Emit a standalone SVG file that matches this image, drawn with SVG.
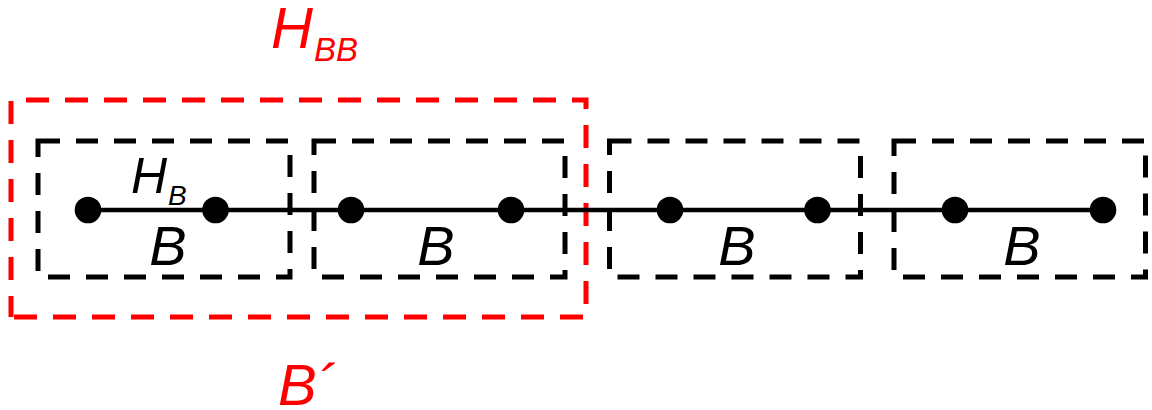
<svg xmlns="http://www.w3.org/2000/svg" width="1152" height="410" viewBox="0 0 1152 410">
<style>
.box{fill:none;stroke:#000;stroke-width:5;stroke-dasharray:22 16}
.rbox{fill:none;stroke:#ff0000;stroke-width:5;stroke-dasharray:23 16}
.wire{stroke:#000;stroke-width:4.5;fill:none}
.dot{fill:#000}
text{font-family:"Liberation Sans",Arial,sans-serif;font-style:italic}
.lbl{font-size:56px;fill:#000;text-anchor:middle}
.red{fill:#ff0000}
</style>
<rect width="1152" height="410" fill="#fff"/>
<g id="group-bb">
<path class="rbox" d="M11,317 L586,317 L586,100 L11,100 Z" stroke-dashoffset="-3"/>
<text class="red" x="271" y="48" font-size="58">H<tspan font-size="33" y="61" dx="1">BB</tspan></text>
<text class="red" x="278" y="405" font-size="58">B´</text>
</g>
<g id="connectors">
<line class="wire" x1="88" y1="210" x2="1103" y2="210"/>
</g>
<g id="block1">
<rect class="box" x="38" y="141" width="252" height="136"/>
<circle class="dot" cx="88" cy="210" r="13.3"/>
<circle class="dot" cx="215.5" cy="210" r="13.3"/>
<text x="131" y="193" font-size="50">H<tspan font-size="28" y="205" dx="1">B</tspan></text>
<text class="lbl" x="168" y="265">B</text>
</g>
<g id="block2">
<rect class="box" x="314" y="141" width="251" height="136"/>
<circle class="dot" cx="351" cy="210" r="13.3"/>
<circle class="dot" cx="511" cy="210" r="13.3"/>
<text class="lbl" x="436" y="265">B</text>
</g>
<g id="block3">
<rect class="box" x="609.5" y="141" width="251" height="136"/>
<circle class="dot" cx="670" cy="210" r="13.3"/>
<circle class="dot" cx="817.5" cy="210" r="13.3"/>
<text class="lbl" x="737" y="265">B</text>
</g>
<g id="block4">
<rect class="box" x="894" y="141" width="251.5" height="136"/>
<circle class="dot" cx="955" cy="210" r="13.3"/>
<circle class="dot" cx="1103" cy="210" r="13.3"/>
<text class="lbl" x="1022" y="265">B</text>
</g>
</svg>
